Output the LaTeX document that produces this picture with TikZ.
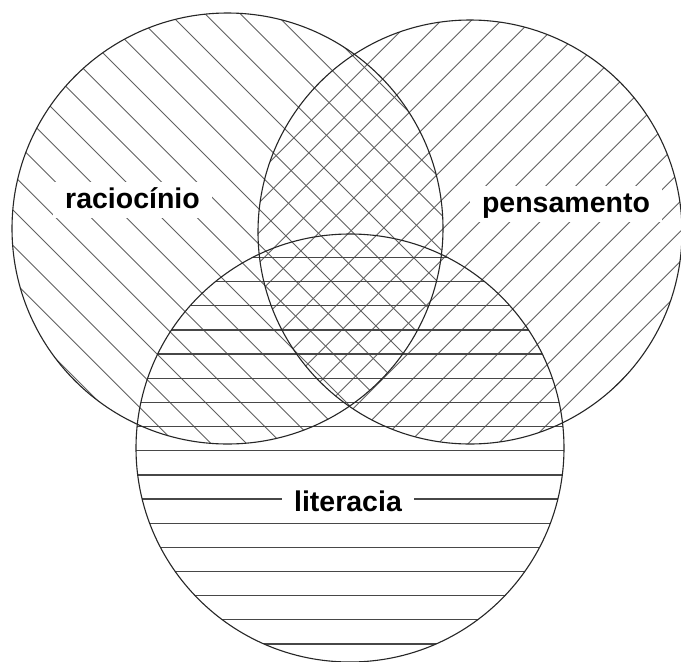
\documentclass[tikz,border=0pt]{standalone}
\usepackage{fontspec}
\setmainfont{Liberation Sans}
\begin{document}
\begin{tikzpicture}[x=1pt,y=-1pt,
  hatchd/.style={draw=black!62,line width=0.9pt},
  hatchh/.style={draw=black!72,line width=1.3pt},
  ring/.style={draw=black!85,line width=1.1pt},
  lbl/.style={fill=white,inner xsep=12pt,inner ysep=5pt,text height=21pt,text depth=5pt,anchor=base,
    font=\fontsize{28.5}{34}\selectfont\bfseries}]
\useasboundingbox (0,0) rectangle (681,662);
\fill[white] (0,0) rectangle (681,662);
\def\Lc{(227.5,228.5)}\def\Lr{215.5}
\def\Rc{(470,232)}\def\Rr{212}
\def\Bc{(350,448)}\def\Br{214}
% left circle: lines y - x = c
\begin{scope}
  \clip \Lc circle (\Lr);
  \foreach \k in {-9,...,11}{
    \pgfmathsetmacro{\c}{-50+35.3*\k}
    \draw[hatchd] (0,\c) -- (681,681+\c);
  }
\end{scope}
% right circle: lines x + y = c
\begin{scope}
  \clip \Rc circle (\Rr);
  \foreach \k in {-8,...,14}{
    \pgfmathsetmacro{\c}{611.7+30*\k}
    \draw[hatchd] (0,\c) -- (681,\c-681);
  }
\end{scope}
% bottom circle: horizontal lines
\begin{scope}
  \clip \Bc circle (\Br);
  \foreach \k in {-11,...,7}{
    \pgfmathsetmacro{\c}{499+24.15*\k}
    \draw[hatchh] (0,\c) -- (681,\c);
  }
\end{scope}
\draw[ring] \Lc circle (\Lr);
\draw[ring] \Rc circle (\Rr);
\draw[ring] \Bc circle (\Br);
\node[lbl] (rac) at (132.5,208) {raciocínio};
\node[lbl] (pen) at (566,212) {pensamento};
\node[lbl] (lit) at (348,511) {literacia};
\end{tikzpicture}
\end{document}
